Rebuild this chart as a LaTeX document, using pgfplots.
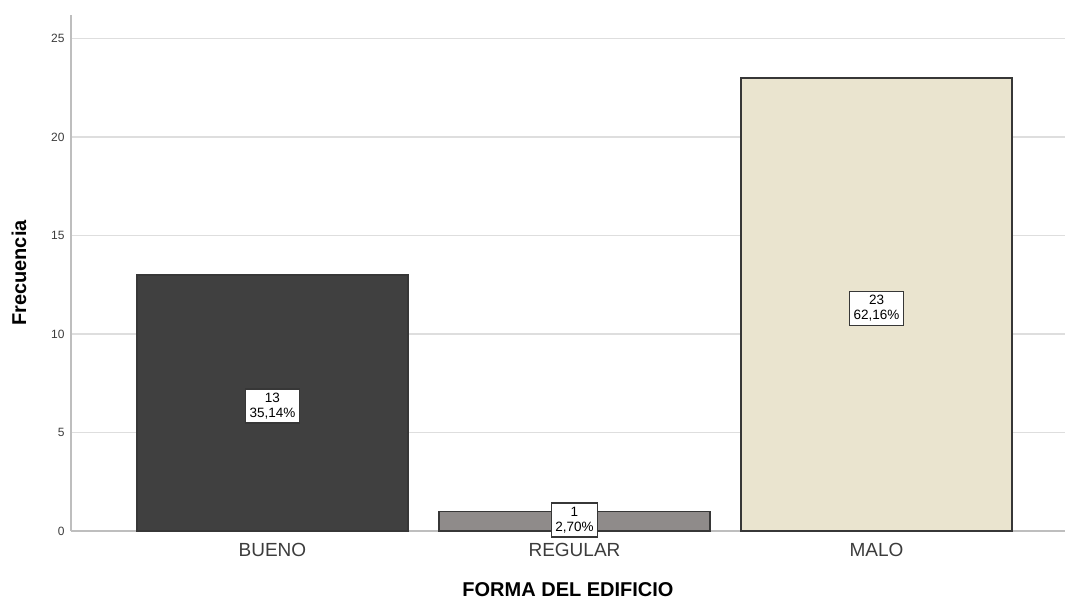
\documentclass[border=0pt]{standalone}
\usepackage{pgfplots}
\pgfplotsset{compat=1.18}
\usepackage{pgfplotstable}
\usepackage{fontspec}
\setmainfont{Liberation Sans}
\usetikzlibrary{calc}
\definecolor{cBueno}{RGB}{64,64,64}
\definecolor{cRegular}{RGB}{143,139,138}
\definecolor{cMalo}{RGB}{234,228,207}
\definecolor{gridc}{RGB}{222,222,222}
\definecolor{axc}{RGB}{190,190,190}
\definecolor{edgec}{RGB}{55,55,55}
\definecolor{txtc}{RGB}{60,60,60}
\pgfplotstableread{
x y
0 13
}\tblBueno
\pgfplotstableread{
x y
1 1
}\tblRegular
\pgfplotstableread{
x y
2 23
}\tblMalo
\pgfplotstableread{
x y lab
0 6.35 {13\\35,14\%}
1 0.55 {1\\2,70\%}
2 11.3 {23\\62,16\%}
}\tblLabels
\begin{document}
\begin{tikzpicture}
\begin{axis}[
  name=ax,
  scale only axis,
  width=994pt, height=516pt,
  xmin=-0.667, xmax=2.624,
  ymin=0, ymax=26.2,
  xtick={0,1,2},
  xticklabels={BUENO,REGULAR,MALO},
  ytick={0,5,10,15,20,25},
  major tick length=0pt,
  /pgf/number format/assume math mode=true,
  axis x line*=bottom,
  axis y line*=left,
  axis line style={axc, line width=1.6pt},
  ymajorgrids,
  grid style={gridc, line width=1.5pt},
  x tick label style={font=\fontsize{19}{19}\selectfont, text=txtc, yshift=-9pt},
  y tick label style={font=\fontsize{12}{12}\selectfont, text=txtc, xshift=-3pt},
  xlabel={\textbf{FORMA DEL EDIFICIO}},
  ylabel={\textbf{Frecuencia}},
  xlabel style={font=\fontsize{20}{20}\selectfont, yshift=-19pt},
  ylabel style={font=\fontsize{20}{20}\selectfont, yshift=18pt},
  ybar, bar width=0.897, bar shift=0pt,
  clip=false,
]
\addplot[fill=cBueno, draw=edgec, line width=1.5pt] table[x=x,y=y] {\tblBueno};
\addplot[fill=cRegular, draw=edgec, line width=1.5pt] table[x=x,y=y] {\tblRegular};
\addplot[fill=cMalo, draw=edgec, line width=1.5pt] table[x=x,y=y] {\tblMalo};
\addplot[draw=none, mark=none, ybar=0pt, bar width=0pt, fill=none,
  nodes near coords={\pgfplotspointmeta},
  point meta=explicit symbolic,
  every node near coord/.style={anchor=center, align=center, fill=white, draw=edgec, line width=1.5pt,
    font=\fontsize{13.5}{15}\selectfont, inner xsep=4pt, inner ysep=4pt, text=black}
] table[x=x,y=y,meta=lab] {\tblLabels};
\end{axis}
\pgfresetboundingbox
\path ($(ax.south west)+(-71pt,-70pt)$) rectangle ($(ax.north east)+(0pt,15pt)$);
\end{tikzpicture}
\end{document}
